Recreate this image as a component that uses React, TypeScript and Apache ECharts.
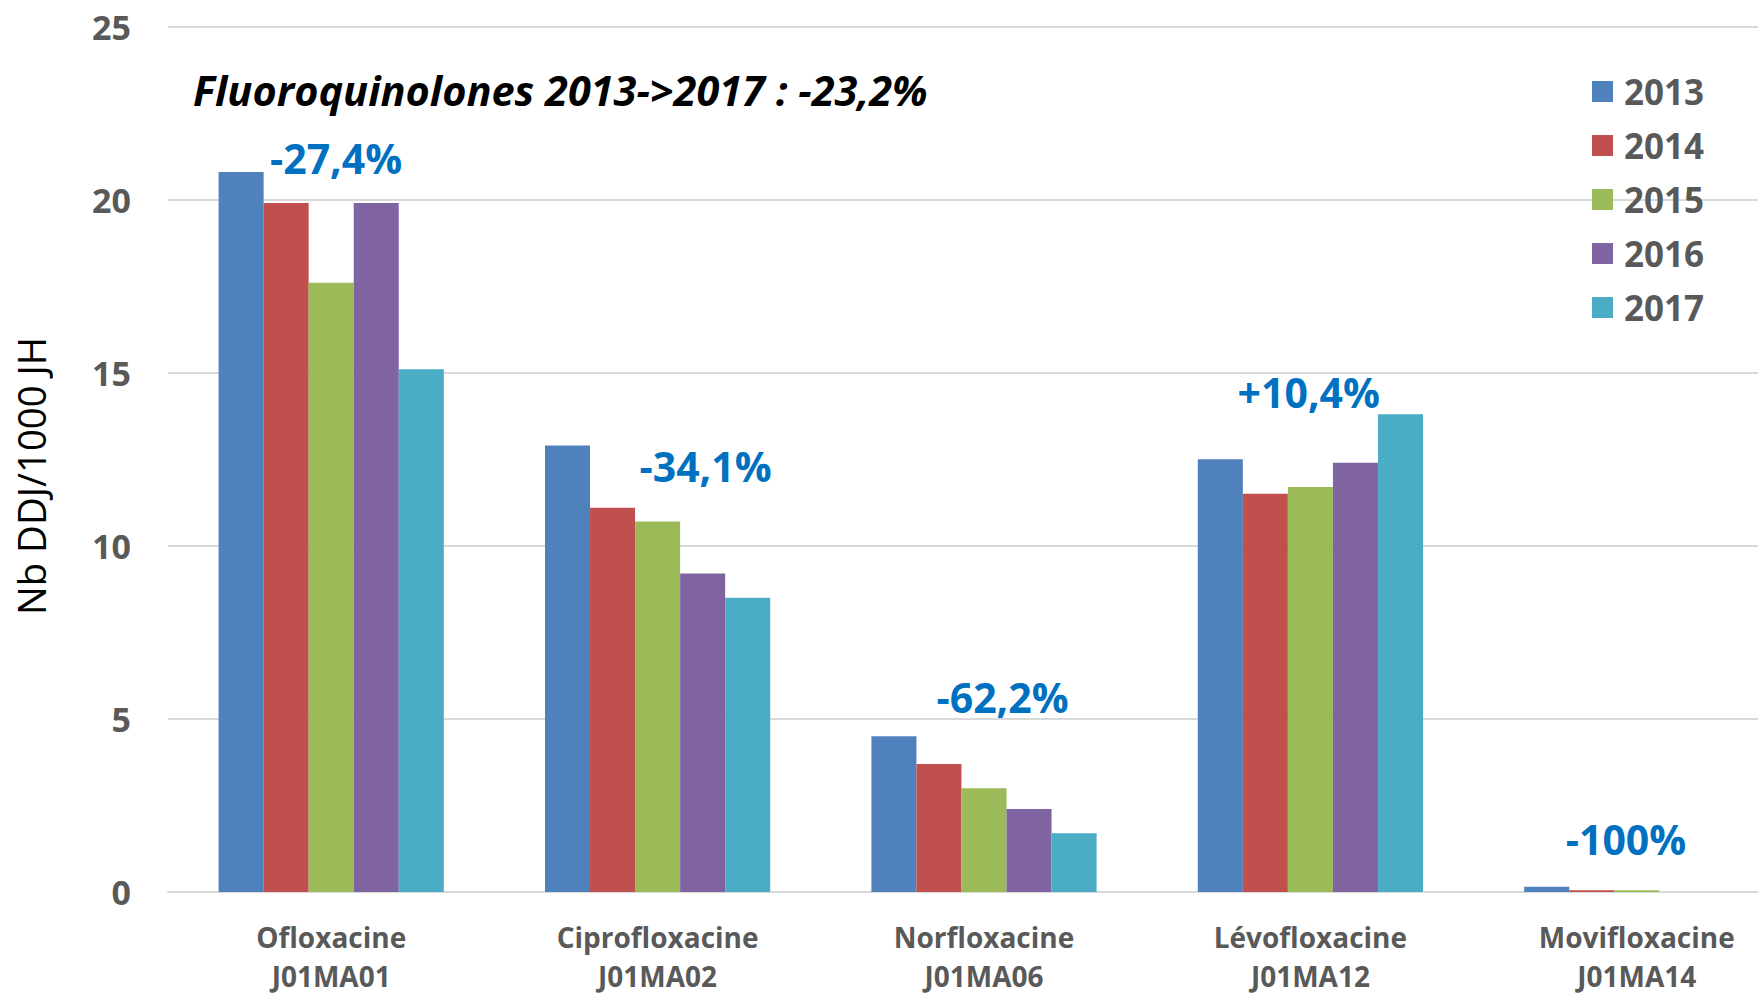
import React, { useEffect, useRef } from "react";
import * as echarts from "echarts";

const drugNames = ["Ofloxacine", "Ciprofloxacine", "Norfloxacine", "Lévofloxacine", "Movifloxacine"];
const drugCodes = ["J01MA01", "J01MA02", "J01MA06", "J01MA12", "J01MA14"];
const years = ["2013", "2014", "2015", "2016", "2017"];
const yearColors = ["#4F81BD", "#C0504D", "#9BBB59", "#8064A2", "#4BACC6"];

const values2013 = [20.8, 12.9, 4.5, 12.5, 0.15];
const values2014 = [19.9, 11.1, 3.7, 11.5, 0.05];
const values2015 = [17.6, 10.7, 3.0, 11.7, 0.05];
const values2016 = [19.9, 9.2, 2.4, 12.4, 0];
const values2017 = [15.1, 8.5, 1.7, 13.8, 0];
const seriesValues = [values2013, values2014, values2015, values2016, values2017];

const yTicks = [0, 5, 10, 15, 20, 25];

const changeLabels = ["-27,4%", "-34,1%", "-62,2%", "+10,4%", "-100%"];
const changeX = [0.015, 1.147, 2.057, 2.995, 3.967];
const changeY = [21.2, 12.31, 5.62, 14.43, 1.52];

const titleText = "Fluoroquinolones 2013->2017 : -23,2%";
const yAxisTitle = "Nb DDJ/1000 JH";

const FONT = "'Open Sans', 'Noto Sans', sans-serif";

export default function App() {
  const ref = useRef<HTMLDivElement>(null);

  useEffect(() => {
    if (!ref.current) return;
    const chart = echarts.init(ref.current, null, { renderer: "svg" });
    const categories = drugNames.map((n, i) => n + "\n" + drugCodes[i]);

    const barSeries = years.map((y, i) => ({
      name: y,
      type: "bar",
      xAxisIndex: 0,
      yAxisIndex: 0,
      data: seriesValues[i],
      barGap: "0%",
      barCategoryGap: "31%",
      itemStyle: { color: yearColors[i] },
    }));

    chart.setOption({
      animation: false,
      backgroundColor: "#ffffff",
      grid: { left: 168, right: 0, top: 26.5, bottom: 97.3, containLabel: false },
      legend: {
        data: years,
        orient: "vertical",
        left: 1587,
        top: 69,
        icon: "rect",
        itemWidth: 21,
        itemHeight: 21,
        itemGap: 19,
        textStyle: {
          fontFamily: FONT,
          fontSize: 35,
          fontWeight: "bold",
          color: "#595959",
          lineHeight: 35,
          padding: [0, 0, 0, 6],
        },
      },
      xAxis: [
        {
          type: "category",
          data: categories,
          axisLine: { show: true, lineStyle: { color: "#D9D9D9", width: 2 } },
          axisTick: { show: false },
          axisLabel: {
            margin: 25,
            fontFamily: FONT,
            fontSize: 28,
            fontWeight: "bold",
            color: "#595959",
            lineHeight: 39,
            interval: 0,
          },
        },
        { type: "value", min: -0.5, max: 4.5, show: false },
      ],
      yAxis: {
        type: "value",
        min: 0,
        max: 25,
        interval: 5,
        axisLine: { show: false },
        axisTick: { show: false },
        splitLine: { lineStyle: { color: "#D9D9D9", width: 2 } },
        axisLabel: {
          margin: 37,
          fontFamily: FONT,
          fontSize: 34,
          fontWeight: "bold",
          color: "#595959",
          formatter: (v: number) => (yTicks.includes(v) ? String(v) : ""),
        },
      },
      series: [
        ...barSeries,
        {
          name: "changes",
          type: "scatter",
          xAxisIndex: 1,
          yAxisIndex: 0,
          symbolSize: 1,
          itemStyle: { color: "transparent", opacity: 1 },
          data: changeLabels.map((l, i) => ({ name: l, value: [changeX[i], changeY[i]] })),
          label: {
            show: true,
            position: "inside",
            formatter: "{b}",
            fontFamily: FONT,
            fontSize: 41,
            fontWeight: "bold",
            color: "#0070C0",
            opacity: 1,
          },
          z: 10,
        },
      ],
      graphic: [
        {
          type: "text",
          x: 193,
          y: 90,
          style: {
            text: titleText,
            fontFamily: FONT,
            fontSize: 41.5,
            fontWeight: "bold",
            fontStyle: "italic",
            fill: "#000000",
            verticalAlign: "middle",
          },
        },
        {
          type: "text",
          x: 31,
          y: 476,
          rotation: Math.PI / 2,
          style: {
            text: yAxisTitle,
            fontFamily: FONT,
            fontSize: 38.3,
            fill: "#000000",
            align: "center",
            verticalAlign: "middle",
          },
        },
      ],
    });

    return () => chart.dispose();
  }, []);

  return (
    <div
      style={{ width: 1758, height: 995, position: "absolute", left: 0, top: 0, overflow: "hidden" }}
    >
      <div ref={ref} style={{ width: 1800, height: 995 }} />
    </div>
  );
}
